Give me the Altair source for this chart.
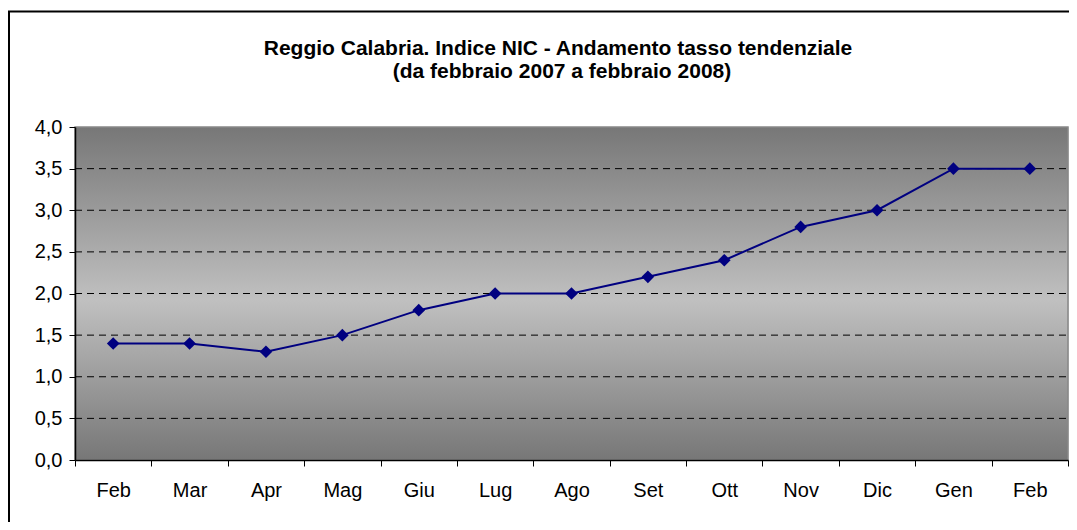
import altair as alt
import pandas as pd

months = ["Feb", "Mar", "Apr", "Mag", "Giu", "Lug", "Ago", "Set", "Ott", "Nov", "Dic", "Gen", "Feb"]
values = [1.4, 1.4, 1.3, 1.5, 1.8, 2.0, 2.0, 2.2, 2.4, 2.8, 3.0, 3.5, 3.5]
y_ticks = [0, 0.5, 1, 1.5, 2, 2.5, 3, 3.5, 4]
grid_vals = [0.5, 1, 1.5, 2, 2.5, 3, 3.5]
title_lines = ["Reggio Calabria. Indice NIC - Andamento tasso tendenziale",
               "(da febbraio 2007 a febbraio 2008)"]

W, H = 993, 333
FONT = "Liberation Sans"

df = pd.DataFrame({"i": list(range(len(months))), "month": months, "v": values})
label_expr = "[" + ",".join("'%s'" % m for m in months) + "][datum.value]"

x_enc = alt.X("i:O", scale=alt.Scale(type="band", paddingInner=0, paddingOuter=0),
              axis=alt.Axis(title=None, labelExpr=label_expr, labelAngle=0, tickBand="extent",
                            domainColor="black", domainWidth=1.5, tickColor="black", tickSize=6,
                            labelFont=FONT, labelFontSize=20, labelColor="black", labelPadding=14,
                            grid=False, zindex=1))
y_scale = alt.Scale(domain=[0, 4], nice=False)
y_enc = alt.Y("v:Q", scale=y_scale,
              axis=alt.Axis(title=None, values=y_ticks,
                            labelExpr="replace(format(datum.value, '.1f'), '.', ',')",
                            domainColor="black", domainWidth=1.5, tickColor="black", tickSize=6,
                            labelFont=FONT, labelFontSize=20, labelColor="black", labelPadding=7,
                            grid=False, zindex=1))

one = pd.DataFrame({"a": [0]})

grad = alt.LinearGradient(gradient="linear", x1=0, x2=0, y1=0, y2=1,
                          stops=[alt.GradientStop(offset=0, color="#777777"),
                                 alt.GradientStop(offset=0.52, color="#c0c0c0"),
                                 alt.GradientStop(offset=1, color="#777777")])
bg = alt.Chart(one).mark_rect(fill=grad, stroke="#888888", strokeWidth=1.5).encode(
    x=alt.value(0), x2=alt.value(W), y=alt.value(0), y2=alt.value(H))

grid = alt.Chart(pd.DataFrame({"g": grid_vals})).mark_rule(
    color="black", strokeWidth=1, strokeDash=[7, 5]).encode(
    y=alt.Y("g:Q", scale=y_scale), x=alt.value(0), x2=alt.value(W))

base = alt.Chart(df)
line = base.mark_line(color="#000080", strokeWidth=2).encode(x=x_enc, y=y_enc)
pts = base.mark_point(shape="diamond", filled=True, color="#000080", size=160, opacity=1).encode(
    x="i:O", y="v:Q")

border = alt.Chart(one).mark_rect(fill="transparent", stroke="black", strokeWidth=2).encode(
    x=alt.value(-66), x2=alt.value(W + 60), y=alt.value(-115.5), y2=alt.value(H + 120))
t1 = alt.Chart(one).mark_text(font=FONT, fontSize=21, fontWeight="bold", color="black",
                              align="center", baseline="alphabetic").encode(
    x=alt.value(483), y=alt.value(-72), text=alt.value(title_lines[0]))
t2 = alt.Chart(one).mark_text(font=FONT, fontSize=21, fontWeight="bold", color="black",
                              align="center", baseline="alphabetic").encode(
    x=alt.value(487), y=alt.value(-49), text=alt.value(title_lines[1]))

chart = alt.layer(border, t1, t2, bg, grid, line, pts).properties(
    width=W, height=H,
    autosize=alt.AutoSizeParams(type="none"),
    padding={"left": 67, "top": 119, "right": 1, "bottom": 62},
).configure_view(stroke=None).configure(background="white")

chart.save("out.html", embed_options={"renderer": "svg", "actions": False})
